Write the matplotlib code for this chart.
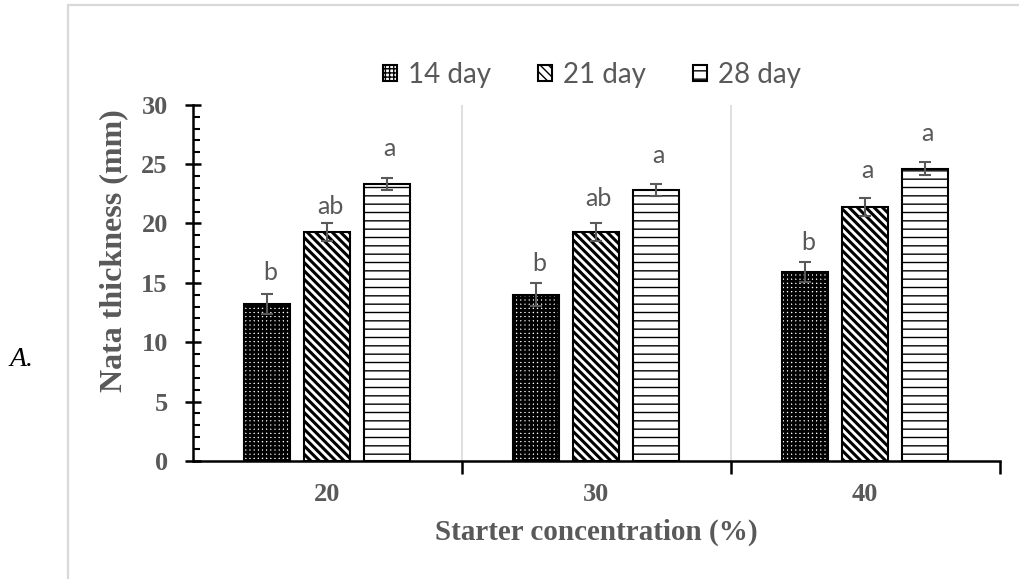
import numpy as np
import matplotlib.pyplot as plt
from matplotlib.patches import Rectangle

# data
concentrations = ['20', '30', '40']
days = ['14 day', '21 day', '28 day']
thick_14 = [13.2, 14.0, 15.9]
thick_21 = [19.3, 19.3, 21.4]
thick_28 = [23.3, 22.8, 24.6]
err_14 = [0.85, 0.95, 0.85]
err_21 = [0.75, 0.75, 0.75]
err_28 = [0.5, 0.5, 0.55]
letters_14 = ['b', 'b', 'b']
letters_21 = ['ab', 'ab', 'a']
letters_28 = ['a', 'a', 'a']
letter_y_14 = [15.9, 16.6, 18.4]
letter_y_21 = [21.4, 22.1, 24.5]
letter_y_28 = [26.3, 25.7, 27.6]

gray = '#595959'
serif = ['Liberation Serif', 'DejaVu Serif']
sans = ['Lato', 'DejaVu Sans']

fig = plt.figure(figsize=(10.2, 5.79), dpi=100)
ax = fig.add_axes([0.189, 0.204, 0.791, 0.615])

# light gray frame around the chart area
fig.patches.append(Rectangle((68/1020, -0.1), 1.0, 1.1 - 5/579, transform=fig.transFigure,
                             fill=False, edgecolor='#d9d9d9', linewidth=1.6))

x = np.arange(len(concentrations))
w = 0.171
step = 0.223
series = [(thick_14, err_14, '++++', 2.0, letters_14, letter_y_14),
          (thick_21, err_21, '\\\\\\\\', 2.2, letters_21, letter_y_21),
          (thick_28, err_28, '--', 1.0, letters_28, letter_y_28)]

handles = []
for i, (vals, errs, hatch, hlw, lets, ly) in enumerate(series):
    pos = x + (i - 1)*step
    bars = ax.bar(pos, vals, w, color='white', edgecolor='black', hatch=hatch,
                  linewidth=1.5, zorder=3)
    for b in bars:
        if hasattr(b, 'set_hatch_linewidth'):
            b.set_hatch_linewidth(hlw)
    handles.append(bars)
    ax.errorbar(pos, vals, yerr=errs, fmt='none', ecolor=gray, elinewidth=1.5,
                capsize=4.3, capthick=1.5, zorder=4)
    for px, t, y in zip(pos, lets, ly):
        ax.text(px + 0.01, y, t, ha='center', va='center', fontsize=18,
                color=gray, family=sans)

ax.set_xlim(-0.5, 2.5)
ax.set_ylim(0, 30)
ax.set_yticks(np.arange(0, 31, 5))
ax.set_yticks(np.arange(0, 31, 1), minor=True)
ax.set_xticks([0.5, 1.5, 2.5])
ax.set_xticklabels(['', '', ''])
ax.set_xticks(x, minor=True)
ax.set_xticklabels(concentrations, minor=True)

for xv in [0.5, 1.5]:
    ax.axvline(xv, color='#d9d9d9', lw=1.2, zorder=0)

for s in ['top', 'right']:
    ax.spines[s].set_visible(False)
for s in ['left', 'bottom']:
    ax.spines[s].set_linewidth(1.8)

ax.tick_params(axis='y', which='major', direction='inout', length=12, width=1.8,
               pad=12, labelsize=19, labelcolor=gray)
ax.tick_params(axis='y', which='minor', direction='in', length=5, width=1.5)
ax.tick_params(axis='x', which='major', direction='out', length=9, width=1.8)
ax.tick_params(axis='x', which='minor', length=0, pad=16, labelsize=19, labelcolor=gray)
for lab in ax.get_yticklabels() + ax.get_xticklabels(minor=True):
    lab.set_family(serif)
    lab.set_fontweight('bold')

ax.set_ylabel('Nata thickness (mm)', fontsize=23, fontweight='bold', color=gray,
              family=serif)
ax.yaxis.set_label_coords(-0.08, 0.59)
ax.set_xlabel('Starter concentration (%)', fontsize=21, fontweight='bold', color=gray,
              family=serif, labelpad=9)

leg = ax.legend(handles, days, loc='center', bbox_to_anchor=(592/1020, 1 - 75/579),
                bbox_transform=fig.transFigure, ncol=3, frameon=False,
                prop={'family': sans, 'size': 20}, handlelength=0.5, handleheight=0.5,
                handletextpad=0.4, columnspacing=1.7)
for t in leg.get_texts():
    t.set_color(gray)

fig.text(22/1020, 1 - 360/579, 'A.', fontsize=20, style='italic', family=serif,
         ha='center', va='center', color='black')

fig.savefig('out.png', dpi=100)
